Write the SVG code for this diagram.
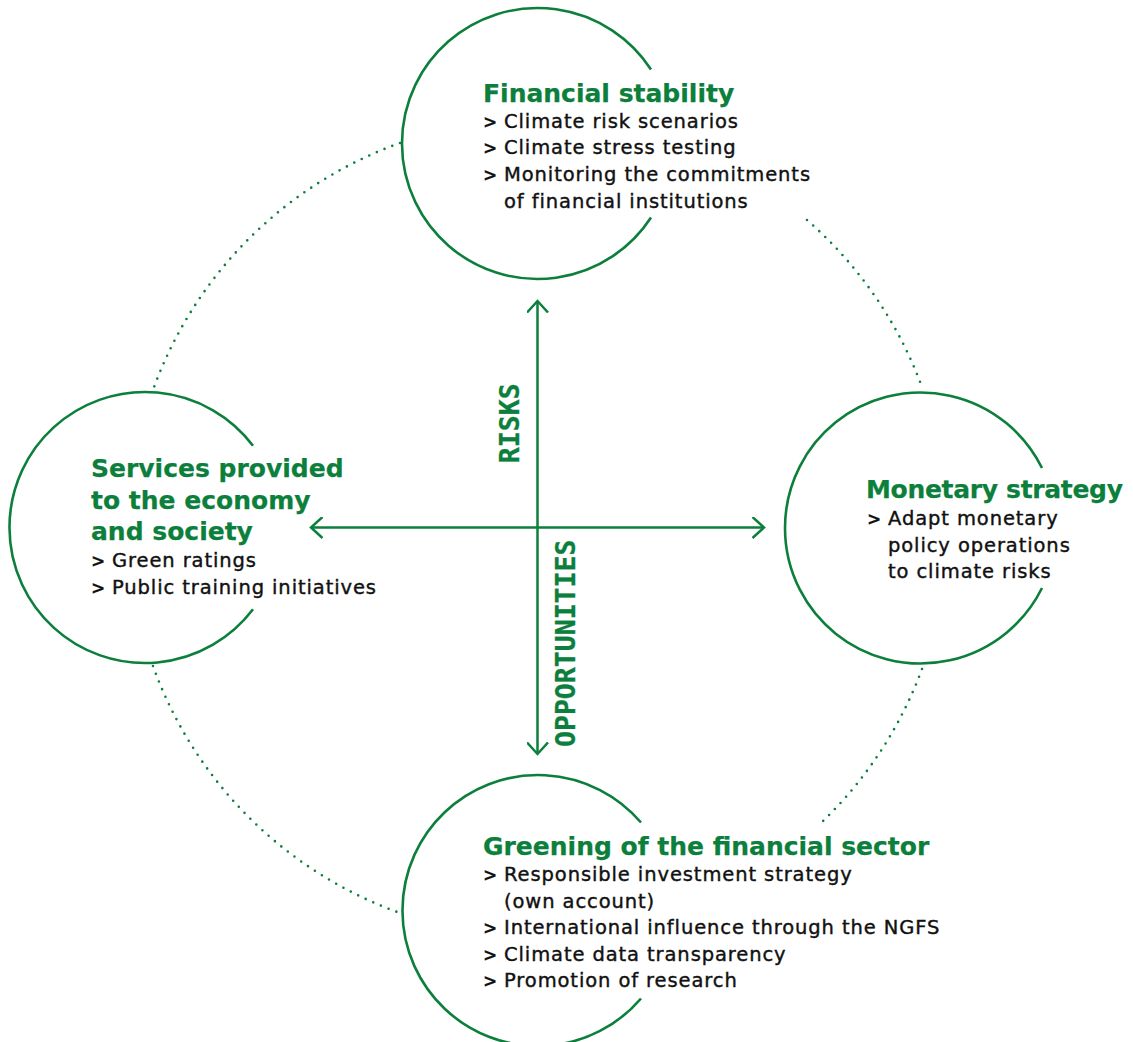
<svg xmlns="http://www.w3.org/2000/svg" width="1133" height="1042" viewBox="0 0 1133 1042">
<defs>
<marker id="chev" viewBox="-12 -11 14 22" markerWidth="14" markerHeight="22" refX="0" refY="0" orient="auto-start-reverse" markerUnits="userSpaceOnUse">
<path d="M -11.5 -10.5 L 0 0 L -11.5 10.5" fill="none" stroke="#0b7f3b" stroke-width="2.5" stroke-linejoin="miter"/>
</marker>
</defs>
<style>
.ring{fill:none;stroke:#0b7f3b;stroke-width:2.6}
.dots{fill:none;stroke:#0b7f3b;stroke-width:2.6;stroke-linecap:round;stroke-dasharray:0 8.3}
.axis{fill:none;stroke:#0b7f3b;stroke-width:2.5}
.title{font-family:"DejaVu Sans",sans-serif;font-weight:bold;font-size:25px;fill:#0b7f3b;stroke:#0b7f3b;stroke-width:0.25}
.body{font-family:"DejaVu Sans",sans-serif;font-size:19.5px;letter-spacing:0.9px;fill:#111111;stroke:#111111;stroke-width:0.4}
.gt{font-weight:bold;font-size:17px;stroke-width:0.2}
.axislabel{font-family:"DejaVu Sans Mono",monospace;font-weight:bold;font-size:26.5px;fill:#0b7f3b;stroke:#0b7f3b;stroke-width:0.3}
</style>
<rect width="1133" height="1042" fill="#ffffff"/>
<g id="connectors">
<path class="dots" d="M 400 143 A 409 409 0 0 0 153 390"/>
<path class="dots" d="M 807 220 A 409 409 0 0 1 922 387"/>
<path class="dots" d="M 922 669 A 409 409 0 0 1 822 822"/>
<path class="dots" d="M 153 666 A 409 409 0 0 0 400 913"/>
<line class="axis" x1="537.5" y1="301" x2="537.5" y2="754" marker-start="url(#chev)" marker-end="url(#chev)"/>
<line class="axis" x1="311" y1="527.5" x2="764" y2="527.5" marker-start="url(#chev)" marker-end="url(#chev)"/>
<text class="axislabel" transform="translate(518.5 423.3) rotate(-90)" text-anchor="middle">RISKS</text>
<text class="axislabel" transform="translate(575 643.3) rotate(-90)" text-anchor="middle">OPPORTUNITIES</text>
</g>
<g id="financial-stability">
<path class="ring" d="M 651 69.5 A 135.5 135.5 0 1 0 651 217.5"/>
<text class="title" x="483" y="101.7">Financial stability</text>
<text class="body" y="127.7"><tspan class="gt" x="483">&gt;</tspan><tspan x="504">Climate risk scenarios</tspan></text>
<text class="body" y="154.3"><tspan class="gt" x="483">&gt;</tspan><tspan x="504">Climate stress testing</tspan></text>
<text class="body" y="181"><tspan class="gt" x="483">&gt;</tspan><tspan x="504">Monitoring the commitments</tspan></text>
<text class="body" x="504" y="207.5">of financial institutions</text>
</g>
<g id="services">
<path class="ring" d="M 253 445.7 A 135.5 135.5 0 1 0 253 609.3"/>
<text class="title" x="91" y="477">Services provided</text>
<text class="title" x="91" y="508.5">to the economy</text>
<text class="title" x="91" y="540">and society</text>
<text class="body" y="567"><tspan class="gt" x="91">&gt;</tspan><tspan x="112">Green ratings</tspan></text>
<text class="body" y="593.5"><tspan class="gt" x="91">&gt;</tspan><tspan x="112">Public training initiatives</tspan></text>
</g>
<g id="monetary-strategy">
<path class="ring" d="M 1042 468 A 135.5 135.5 0 1 0 1042 588"/>
<text class="title" x="866" y="498.3" textLength="257" lengthAdjust="spacing">Monetary strategy</text>
<text class="body" y="525"><tspan class="gt" x="867">&gt;</tspan><tspan x="888">Adapt monetary</tspan></text>
<text class="body" x="888" y="551.5">policy operations</text>
<text class="body" x="888" y="578">to climate risks</text>
</g>
<g id="greening">
<path class="ring" d="M 641 822.5 A 135.5 135.5 0 1 0 641 998.5"/>
<text class="title" x="483" y="855">Greening of the financial sector</text>
<text class="body" y="880.7"><tspan class="gt" x="483">&gt;</tspan><tspan x="504">Responsible investment strategy</tspan></text>
<text class="body" x="504" y="907.5">(own account)</text>
<text class="body" y="934"><tspan class="gt" x="483">&gt;</tspan><tspan x="504">International influence through the NGFS</tspan></text>
<text class="body" y="960.5"><tspan class="gt" x="483">&gt;</tspan><tspan x="504">Climate data transparency</tspan></text>
<text class="body" y="987"><tspan class="gt" x="483">&gt;</tspan><tspan x="504">Promotion of research</tspan></text>
</g>
</svg>
